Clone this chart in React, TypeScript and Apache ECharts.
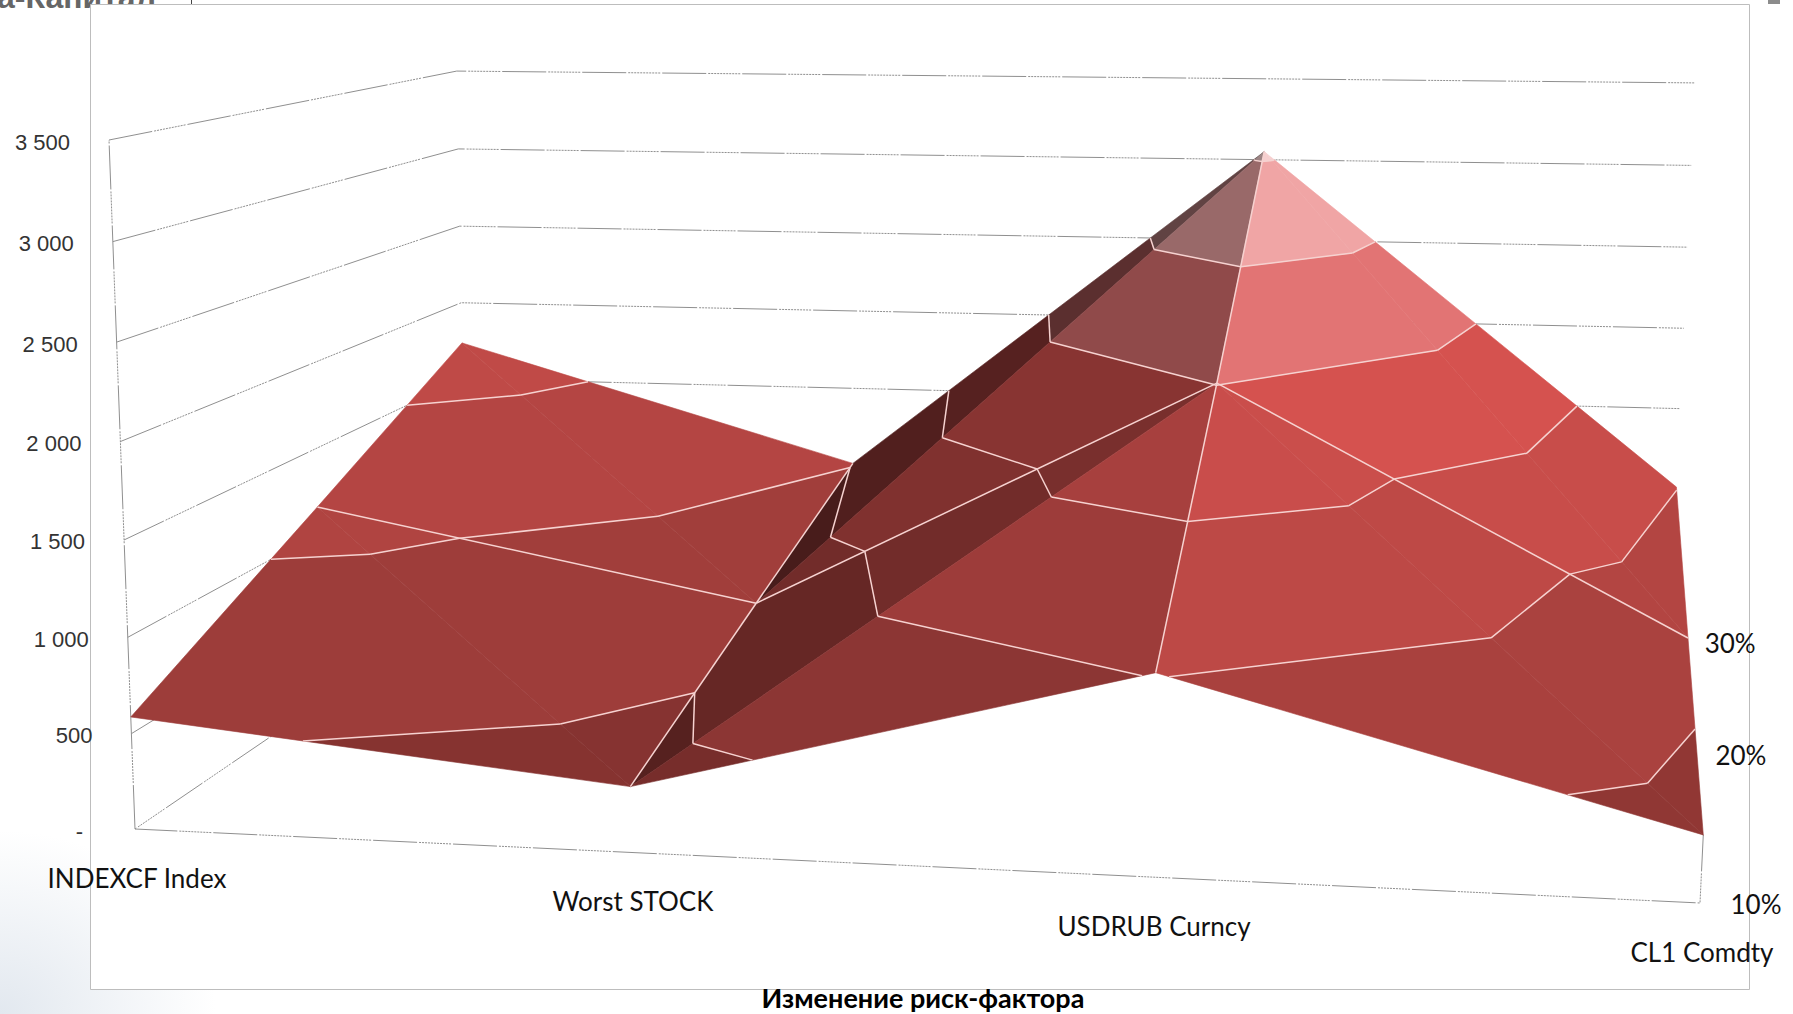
import React, { useEffect, useRef } from "react";
import * as echarts from "echarts";

// Risk-factor stress surface: capital impact by instrument and shock size.
const xCategories = ["INDEXCF Index", "Worst STOCK", "USDRUB Curncy", "CL1 Comdty"];
const depthLabels = ["10%", "20%", "30%"];
const yTicks = [0, 500, 1000, 1500, 2000, 2500, 3000, 3500];
const yTickLabels = ["-", "500", "1 000", "1 500", "2 000", "2 500", "3 000", "3 500"];
const values10 = [587, 338, 1017, 333];
const values20 = [1157, 678, 2008, 666];
const values30 = [1736, 1011, 3050, 1008];
const axisTitle = "Изменение риск-фактора";
const brandFragment = "а-Капитал";

const surface = [values10, values20, values30];
const bandColors = ["#983a37", "#b34542", "#c84d4a", "#d5524f", "#e27474", "#f0a5a5", "#f6cfcf"];

type P3 = [number, number, number]; // category index, value, depth index

// Perspective of the box: screen anchors of the four base corners and their homogeneous weights.
const CORNER_O = [135, 829];
const CORNER_X = [1700, 903];
const CORNER_Y = [109, 140];
const CORNER_Z = [467, 603];
const W_X = 0.928;
const W_Y = 0.9636;
const W_Z = 1.3;

function project(u: number, v: number, w: number): [number, number] {
  const h = [0, 1].map(
    (n) =>
      CORNER_O[n] +
      u * (W_X * CORNER_X[n] - CORNER_O[n]) +
      v * (W_Y * CORNER_Y[n] - CORNER_O[n]) +
      w * (W_Z * CORNER_Z[n] - CORNER_O[n])
  );
  const d = 1 + u * (W_X - 1) + v * (W_Y - 1) + w * (W_Z - 1);
  return [h[0] / d, h[1] / d];
}

// Category and value go through the chart's own axes, depth through the series list.
function toScreen(params: any, api: any, p: P3): [number, number] {
  const cs = params.coordSys;
  const c = api.coord([p[0], p[1]]);
  const u = (c[0] - cs.x) / cs.width;
  const v = (cs.y + cs.height - c[1]) / cs.height;
  return project(u, v, p[2] / (depthLabels.length - 1));
}

function cellTriangles(api: any): P3[][] {
  const i = api.value(0);
  const k = api.value(1);
  const a: P3 = [i, api.value(2), k];
  const b: P3 = [i + 1, api.value(3), k];
  const c: P3 = [i, api.value(4), k + 1];
  const d: P3 = [i + 1, api.value(5), k + 1];
  // Each cell folds along its steeper diagonal.
  return Math.abs(a[1] - d[1]) > Math.abs(b[1] - c[1])
    ? [[a, c, d], [a, b, d]]
    : [[a, c, b], [c, d, b]];
}

function lerp(p: P3, q: P3, level: number): P3 {
  const t = (level - p[1]) / (q[1] - p[1]);
  return [p[0] + t * (q[0] - p[0]), level, p[2] + t * (q[2] - p[2])];
}

function clipAbove(poly: P3[], level: number, sign: number): P3[] {
  const out: P3[] = [];
  poly.forEach((p, n) => {
    const q = poly[(n + 1) % poly.length];
    const pIn = sign * (p[1] - level) >= 0;
    const qIn = sign * (q[1] - level) >= 0;
    if (pIn) out.push(p);
    if (pIn !== qIn) out.push(lerp(p, q, level));
  });
  return out;
}

// Facets falling to the right catch the light; facets rising to the right sit in shadow.
function shadeOf(t: P3[]): number {
  const e1 = [t[1][0] - t[0][0], (t[1][1] - t[0][1]) / 1000, t[1][2] - t[0][2]];
  const e2 = [t[2][0] - t[0][0], (t[2][1] - t[0][1]) / 1000, t[2][2] - t[0][2]];
  const nx = e1[1] * e2[2] - e1[2] * e2[1];
  const ny = e1[2] * e2[0] - e1[0] * e2[2];
  const nz = e1[0] * e2[1] - e1[1] * e2[0];
  const fx = -nx / ny;
  const fz = -nz / ny;
  return fx < 0
    ? Math.min(1, 0.82 - 0.08 * fx + 0.07 * fz)
    : 0.84 - 0.23 * fx + 0.1 * fz;
}

function shaded(hex: string, s: number): string {
  const n = parseInt(hex.slice(1), 16);
  const r = Math.round(((n >> 16) & 255) * s);
  const g = Math.round(((n >> 8) & 255) * s);
  const b = Math.round((n & 255) * s);
  return `rgb(${r},${g},${b})`;
}

const GRID_COLOR = "#8f8f8f";
const GRID_DASH = [44, 2, 2, 1, 2, 1, 2, 1, 2, 1, 2, 1, 2, 1, 2, 1, 2, 1, 2, 1, 2, 1, 2, 2];
const SEAM_COLOR = "#f6d2d0";

function renderWall(params: any, api: any) {
  const level = api.value(1);
  const idx = params.dataIndex;
  const maxY = yTicks[yTicks.length - 1];
  const lastX = xCategories.length - 1;
  const lastZ = depthLabels.length - 1;
  const children: any[] = [];
  const line = (pts: P3[]) =>
    children.push({
      type: "polyline",
      shape: { points: pts.map((p) => toScreen(params, api, p)) },
      style: { stroke: GRID_COLOR, lineWidth: 1, fill: null, lineDash: GRID_DASH },
    });
  if (level === 0) {
    line([[0, 0, lastZ], [0, 0, 0], [lastX, 0, 0], [lastX, surface[0][lastX], 0]]);
    line([[0, 0, 0], [0, maxY, 0]]);
  } else {
    line([[0, level, 0], [0, level, lastZ], [lastX, level, lastZ]]);
  }
  const base = toScreen(params, api, [0, level, 0]);
  children.push({
    type: "text",
    style: {
      text: yTickLabels[idx],
      x: base[0] - (level === 0 ? 52 : 39),
      y: base[1] + 2,
      align: "right",
      verticalAlign: "middle",
      fontSize: 22,
      fontFamily: "Liberation Sans",
      fill: "#333333",
    },
  });
  return { type: "group", children };
}

function renderCell(params: any, api: any) {
  const children: any[] = [];
  cellTriangles(api).forEach((tri) => {
    const s = shadeOf(tri);
    bandColors.forEach((color, b) => {
      let poly: P3[] = tri;
      poly = clipAbove(poly, b * 500, 1);
      if (poly.length) poly = clipAbove(poly, (b + 1) * 500, -1);
      if (poly.length < 3) return;
      const fill = shaded(color, s);
      children.push({
        type: "polygon",
        shape: { points: poly.map((p) => toScreen(params, api, p)) },
        style: { fill, stroke: fill, lineWidth: 0.6 },
      });
    });
  });
  return { type: "group", children };
}

function renderSeams(params: any, api: any) {
  const children: any[] = [];
  const seam = (p: P3, q: P3) =>
    children.push({
      type: "line",
      shape: (() => {
        const a = toScreen(params, api, p);
        const b = toScreen(params, api, q);
        return { x1: a[0], y1: a[1], x2: b[0], y2: b[1] };
      })(),
      style: { stroke: SEAM_COLOR, lineWidth: 1.5 },
    });
  cellTriangles(api).forEach((tri) => {
    yTicks.slice(1).forEach((level) => {
      const hits: P3[] = [];
      tri.forEach((p, n) => {
        const q = tri[(n + 1) % 3];
        if ((p[1] - level) * (q[1] - level) < 0) hits.push(lerp(p, q, level));
      });
      if (hits.length === 2) seam(hits[0], hits[1]);
    });
  });
  const i = api.value(0);
  const k = api.value(1);
  const a: P3 = [i, api.value(2), k];
  const b: P3 = [i + 1, api.value(3), k];
  const c: P3 = [i, api.value(4), k + 1];
  if (i > 0) seam(a, c);
  if (k > 0) seam(a, b);
  return { type: "group", children };
}

function renderCategoryLabel(params: any, api: any) {
  const i = api.value(0);
  const base = toScreen(params, api, [i, 0, 0]);
  return {
    type: "text",
    style: {
      text: xCategories[params.dataIndex],
      x: base[0] + 2,
      y: base[1] + 49,
      align: "center",
      verticalAlign: "middle",
      fontSize: 26,
      fontFamily: "Lato",
      fill: "#111111",
    },
  };
}

function renderDepthLabel(params: any, api: any) {
  const lastX = xCategories.length - 1;
  const k = params.dataIndex;
  const base = toScreen(params, api, [lastX, 0, k]);
  return {
    type: "text",
    style: {
      text: depthLabels[k],
      x: base[0] + 56 + 2.5 * k,
      y: base[1] + 1 - 2 * k,
      align: "center",
      verticalAlign: "middle",
      fontSize: 26,
      fontFamily: "Lato",
      fill: "#111111",
    },
  };
}

function buildCells() {
  const cells: number[][] = [];
  for (let k = 0; k < surface.length - 1; k++) {
    for (let i = 0; i < xCategories.length - 1; i++) {
      cells.push([i, k, surface[k][i], surface[k][i + 1], surface[k + 1][i], surface[k + 1][i + 1]]);
    }
  }
  return cells;
}

export default function App() {
  const ref = useRef<HTMLDivElement>(null);
  useEffect(() => {
    const chart = echarts.init(ref.current!, null, { renderer: "svg" });
    const cells = buildCells();
    chart.setOption({
      animation: false,
      backgroundColor: "#ffffff",
      grid: { left: 0, right: 0, top: 0, bottom: 0 },
      xAxis: { type: "value", min: 0, max: xCategories.length - 1, show: false },
      yAxis: { type: "value", min: 0, max: 3500, interval: 500, show: false },
      graphic: [
        {
          type: "rect",
          shape: { x: 0, y: 810, width: 240, height: 204 },
          style: {
            fill: new echarts.graphic.RadialGradient(0, 1, 0.9, [
              { offset: 0, color: "#e2e8ef" },
              { offset: 1, color: "#ffffff" },
            ]),
          },
        },
        {
          type: "text",
          style: {
            text: brandFragment,
            x: -3,
            y: 13,
            align: "left",
            verticalAlign: "bottom",
            fontSize: 32,
            fontWeight: "bold",
            fontFamily: "Liberation Sans",
            fill: "#666666",
          },
        },
        { type: "rect", shape: { x: 191, y: 0, width: 1, height: 4 }, style: { fill: "#444444" } },
        { type: "rect", shape: { x: 1768, y: 0, width: 12, height: 4 }, style: { fill: "#8c8c8c" } },
        {
          type: "rect",
          shape: { x: 90.5, y: 4.5, width: 1659, height: 985 },
          style: { fill: "#ffffff", stroke: "#bdbdbd", lineWidth: 1 },
        },
        {
          type: "text",
          style: {
            text: axisTitle,
            x: 923,
            y: 997,
            align: "center",
            verticalAlign: "middle",
            fontSize: 27,
            fontWeight: "bold",
            fontFamily: "Lato",
            fill: "#000000",
          },
        },
      ],
      series: [
        {
          type: "custom",
          name: "walls",
          coordinateSystem: "cartesian2d",
          silent: true,
          z: 2,
          clip: false,
          renderItem: renderWall,
          data: yTicks.map((t) => [0, t]),
        },
        {
          type: "custom",
          name: "surface",
          coordinateSystem: "cartesian2d",
          silent: true,
          z: 3,
          clip: false,
          renderItem: renderCell,
          data: cells,
        },
        {
          type: "custom",
          name: "contours",
          coordinateSystem: "cartesian2d",
          silent: true,
          z: 4,
          clip: false,
          renderItem: renderSeams,
          data: cells,
        },
        {
          type: "custom",
          name: "categories",
          coordinateSystem: "cartesian2d",
          silent: true,
          z: 5,
          clip: false,
          renderItem: renderCategoryLabel,
          data: xCategories.map((_, i) => [i, 0]),
        },
        {
          type: "custom",
          name: "depths",
          coordinateSystem: "cartesian2d",
          silent: true,
          z: 5,
          clip: false,
          renderItem: renderDepthLabel,
          data: depthLabels.map((_, k) => [xCategories.length - 1, 0, k]),
        },
      ],
    });
    return () => chart.dispose();
  }, []);
  return (
    <div
      ref={ref}
      style={{ position: "fixed", left: 0, top: 0, width: 1793, height: 1014 }}
    />
  );
}
